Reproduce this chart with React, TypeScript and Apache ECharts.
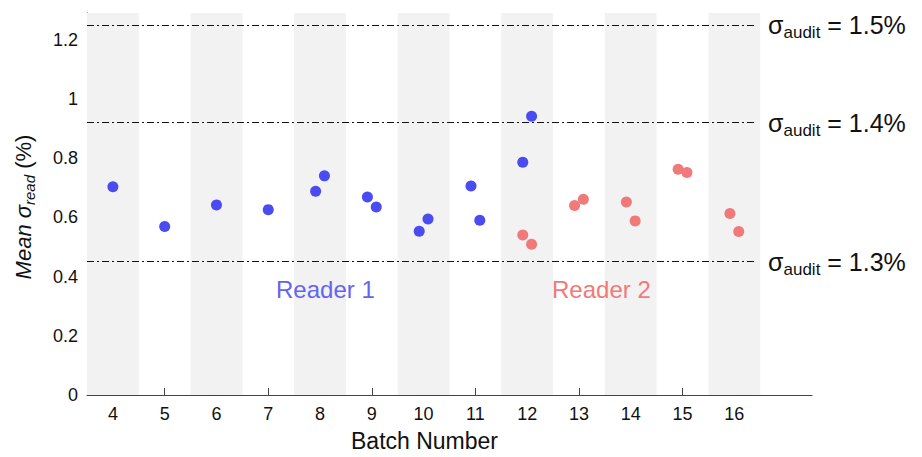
import React, { useEffect, useRef } from "react";
import * as echarts from "echarts";

const batchLabels = [4, 5, 6, 7, 8, 9, 10, 11, 12, 13, 14, 15, 16];
const shadedBatches = [4, 6, 8, 10, 12, 14, 16];
const yTicks = [0, 0.2, 0.4, 0.6, 0.8, 1, 1.2];

const reader1Batch = [4, 5, 6, 7, 8, 8, 9, 9, 10, 10, 11, 11, 12, 12];
const reader1Side = [0, 0, 0, 0, -1, 1, -1, 1, -1, 1, -1, 1, -1, 1];
const reader1Values = [0.703, 0.569, 0.642, 0.626, 0.688, 0.74, 0.669, 0.635, 0.553, 0.594, 0.706, 0.59, 0.786, 0.941];

const reader2Batch = [12, 12, 13, 13, 14, 14, 15, 15, 16, 16];
const reader2Side = [-1, 1, -1, 1, -1, 1, -1, 1, -1, 1];
const reader2Values = [0.54, 0.509, 0.64, 0.661, 0.652, 0.588, 0.762, 0.751, 0.613, 0.552];

const auditValues = [1.25, 0.92, 0.45];
const auditLabels = ["1.5%", "1.4%", "1.3%"];

const FONT = "Arial, 'Liberation Sans', Helvetica, sans-serif";
const BLUE = "#4b4bf2";
const RED = "#f07a7a";

export default function App() {
  const ref = useRef<HTMLDivElement>(null);
  useEffect(() => {
    if (!ref.current) return;
    const chart = echarts.init(ref.current, null, { renderer: "svg" });
    const jitter = 0.085;
    const r1 = reader1Batch.map((b, i) => [b + reader1Side[i] * jitter, reader1Values[i]]);
    const r2 = reader2Batch.map((b, i) => [b + reader2Side[i] * jitter, reader2Values[i]]);
    const lineEnd = 16.42;
    const xStart = 3.5;
    const option: any = {
      animation: false,
      backgroundColor: "#ffffff",
      grid: { left: 87, right: 110, top: 13, bottom: 62, containLabel: false },
      xAxis: {
        type: "value",
        min: 3.5,
        max: 17.5,
        name: "Batch Number",
        nameLocation: "middle",
        nameGap: 34,
        nameTextStyle: { fontFamily: FONT, fontSize: 23, color: "#111", padding: [0, 50, 0, 0] },
        splitLine: { show: false },
        axisLine: { show: true, onZero: false, lineStyle: { color: "#444", width: 1 } },
        axisTick: { show: true, inside: true, length: 7, customValues: batchLabels, lineStyle: { color: "#444" } },
        axisLabel: { customValues: batchLabels, fontFamily: FONT, fontSize: 18, color: "#111", margin: 10 },
      },
      yAxis: {
        type: "value",
        min: 0,
        max: 1.29,
        name: "{i|Mean σ}{s|read}{n| (%)}",
        nameLocation: "middle",
        nameRotate: 90,
        nameGap: 50,
        nameTextStyle: {
          fontFamily: FONT,
          color: "#111",
          padding: [0, 6, 0, 0],
          rich: {
            i: { fontFamily: FONT, fontSize: 22, fontStyle: "italic", color: "#111" },
            s: { fontFamily: FONT, fontSize: 15, fontStyle: "italic", color: "#111", padding: [12, 0, 0, 0] },
            n: { fontFamily: FONT, fontSize: 22, color: "#111" },
          },
        },
        splitLine: { show: false },
        axisLine: { show: true, lineStyle: { color: "#444", width: 1 } },
        axisTick: { show: true, inside: true, length: 8, customValues: yTicks, lineStyle: { color: "#444" } },
        axisLabel: { customValues: yTicks, fontFamily: FONT, fontSize: 18, color: "#111", margin: 9 },
      },
      series: [
        {
          type: "scatter",
          name: "bands",
          data: [],
          silent: true,
          markArea: {
            silent: true,
            itemStyle: { color: "#f2f2f2" },
            data: shadedBatches.map((b) => [{ xAxis: b - 0.5 }, { xAxis: b + 0.5 }]),
          },
          markLine: {
            silent: true,
            symbol: ["none", "none"],
            lineStyle: { color: "#111", width: 1, type: [7, 3, 2, 3] },
            label: {
              show: true,
              position: "end",
              distance: 12,
              fontFamily: FONT,
              color: "#111",
              rich: {
                a: { fontFamily: FONT, fontSize: 25, color: "#111" },
                s: { fontFamily: FONT, fontSize: 17, color: "#111", padding: [15, 0, 0, 0] },
              },
            },
            data: auditValues.map((v, i) => [
              {
                coord: [xStart, v],
                label: { formatter: "{a|σ}{s|audit}{a| = " + auditLabels[i] + "}" },
              },
              { coord: [lineEnd, v] },
            ]),
          },
        },
        {
          type: "scatter",
          name: "Reader 1",
          data: r1,
          symbolSize: 11,
          itemStyle: { color: BLUE, opacity: 1 },
          z: 5,
        },
        {
          type: "scatter",
          name: "Reader 2",
          data: r2,
          symbolSize: 11,
          itemStyle: { color: RED, opacity: 1 },
          z: 5,
        },
      ],
      graphic: [
        {
          type: "text",
          left: 276,
          top: 277,
          z: 100,
          style: { text: "Reader 1", fontFamily: FONT, fontSize: 24, fill: "#6464f2" },
        },
        {
          type: "text",
          left: 552,
          top: 277,
          z: 100,
          style: { text: "Reader 2", fontFamily: FONT, fontSize: 24, fill: "#f47878" },
        },
      ],
    };
    chart.setOption(option);
    return () => chart.dispose();
  }, []);
  return (
    <div
      ref={ref}
      style={{ position: "fixed", left: 0, top: 0, width: 922, height: 457, background: "#fff" }}
    />
  );
}
